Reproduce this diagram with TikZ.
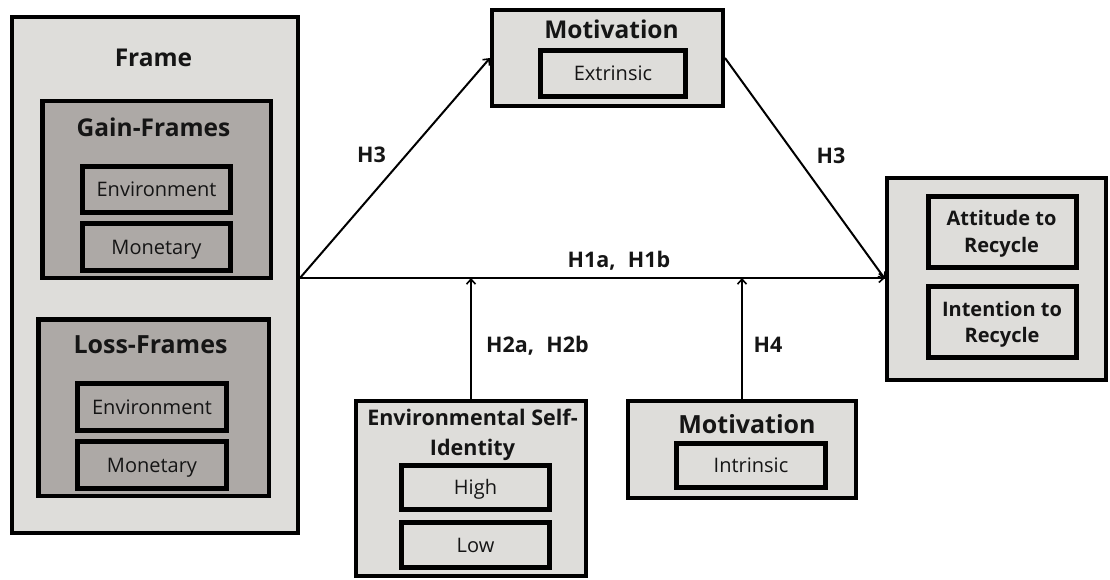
\documentclass[tikz,border=0pt]{standalone}
\usepackage{fontspec}
\setmainfont{Open Sans}
\newfontfamily\hypfont[WordSpace=2.2]{Open Sans}
\usetikzlibrary{arrows.meta}
\definecolor{lightbox}{HTML}{DEDDDA}
\definecolor{darkbox}{HTML}{ADA9A6}
\definecolor{ink}{HTML}{151515}
\newcommand{\fs}[2]{\fontsize{#1}{#2}\selectfont}
\tikzset{
  outerbox/.style={draw=black, line width=4pt, fill=lightbox, inner sep=0pt},
  groupbox/.style={draw=black, line width=4.5pt, fill=darkbox, inner sep=0pt},
  itemtext/.style={inner sep=0pt, text=ink, font=\fs{20}{24}, text height=14.3pt, text depth=0pt},
  darkitem/.style={draw=black, line width=5pt, fill=darkbox, itemtext},
  lightitem/.style={draw=black, line width=5pt, fill=lightbox, itemtext},
  plainbox/.style={draw=black, line width=5pt, fill=lightbox, inner sep=0pt},
  heading/.style={inner sep=0pt, anchor=base, text=ink, font=\bfseries\fs{24.5}{28}},
  subhead/.style={inner sep=0pt, anchor=base, text=ink, font=\bfseries\fs{20}{24}},
  hyp/.style={inner sep=0pt, anchor=base, text=ink, font=\hypfont\bfseries\fs{21.5}{24}},
  conn/.style={line width=2pt, draw=black, -{Straight Barb[length=5pt,width=9pt,line width=1.6pt]}},
}
\begin{document}
\begin{tikzpicture}[x=1pt,y=-1pt]
\useasboundingbox (0,0) rectangle (1110,580);
% Frame group
\node[outerbox, minimum width=286, minimum height=516] (frame) at (155,275) {};
\node[heading] (frameT) at (153.5,66.7) {Frame};
\node[groupbox, minimum width=228.5, minimum height=176.5] (gain) at (156.5,189.5) {};
\node[heading] (gainT) at (153.5,137) {Gain-Frames};
\node[darkitem, minimum width=148, minimum height=46] (genv) at (156.5,189.5) {Environment};
\node[darkitem, minimum width=148, minimum height=47] (gmon) at (156.5,247) {Monetary};
\node[groupbox, minimum width=230.5, minimum height=176.5] (loss) at (153.5,407.5) {};
\node[heading, font=\bfseries\fs{25}{28}] (lossT) at (150.5,353) {Loss-Frames};
\node[darkitem, minimum width=149, minimum height=47] (lenv) at (152,407) {Environment};
\node[darkitem, minimum width=149, minimum height=47] (lmon) at (152,465) {Monetary};
% Top motivation
\node[outerbox, minimum width=231, minimum height=96] (motT) at (607.5,58) {};
\node[heading] (motTT) at (611.5,38.5) {Motivation};
\node[lightitem, minimum width=145, minimum height=46] (extr) at (613,73.5) {Extrinsic};
% Right outcome box
\node[outerbox, minimum width=219, minimum height=202] (rb) at (996.5,279) {};
\node[plainbox, minimum width=148, minimum height=71] (att) at (1002.5,232) {};
\node[subhead] (attA) at (1001.5,225) {Attitude to};
\node[subhead] (attB) at (1001.5,252.7) {Recycle};
\node[plainbox, minimum width=148, minimum height=71] (int) at (1002.5,322) {};
\node[subhead] (intA) at (1002,316) {Intention to};
\node[subhead] (intB) at (1002,342.7) {Recycle};
% Environmental self-identity
\node[outerbox, minimum width=230, minimum height=175] (esi) at (471,488.5) {};
\node[heading, font=\bfseries\fs{21.5}{28}] (esiA) at (472.5,425) {Environmental Self-};
\node[heading, font=\bfseries\fs{21.5}{28}] (esiB) at (472.5,455) {Identity};
\node[lightitem, minimum width=148, minimum height=44] (high) at (475.5,487.5) {High};
\node[lightitem, minimum width=148, minimum height=45] (low) at (475.5,545) {Low};
% Bottom motivation
\node[outerbox, minimum width=228, minimum height=97] (motB) at (742,449.5) {};
\node[heading, font=\bfseries\fs{25}{28}] (motBT) at (747,433) {Motivation};
\node[lightitem, minimum width=149, minimum height=44] (intr) at (751,465.5) {Intrinsic};
% Connectors
\coordinate (s) at (300,278);
\draw[conn] (s) -- (motT.west);
\draw[conn] (motT.east) -- (rb.west);
\draw[conn] (s) -- (s -| rb.west);
\draw[conn] (esi.north) -- (esi.north |- s);
\draw[conn] (motB.north) -- (motB.north |- s);
% Hypothesis labels
\node[hyp] (h3l) at (371.5,163) {H3};
\node[hyp] (h3r) at (831,164) {H3};
\node[hyp] (h1) at (619,267) {H1a, H1b};
\node[hyp] (h2) at (537.5,352) {H2a, H2b};
\node[hyp] (h4) at (768,352) {H4};
\end{tikzpicture}
\end{document}
